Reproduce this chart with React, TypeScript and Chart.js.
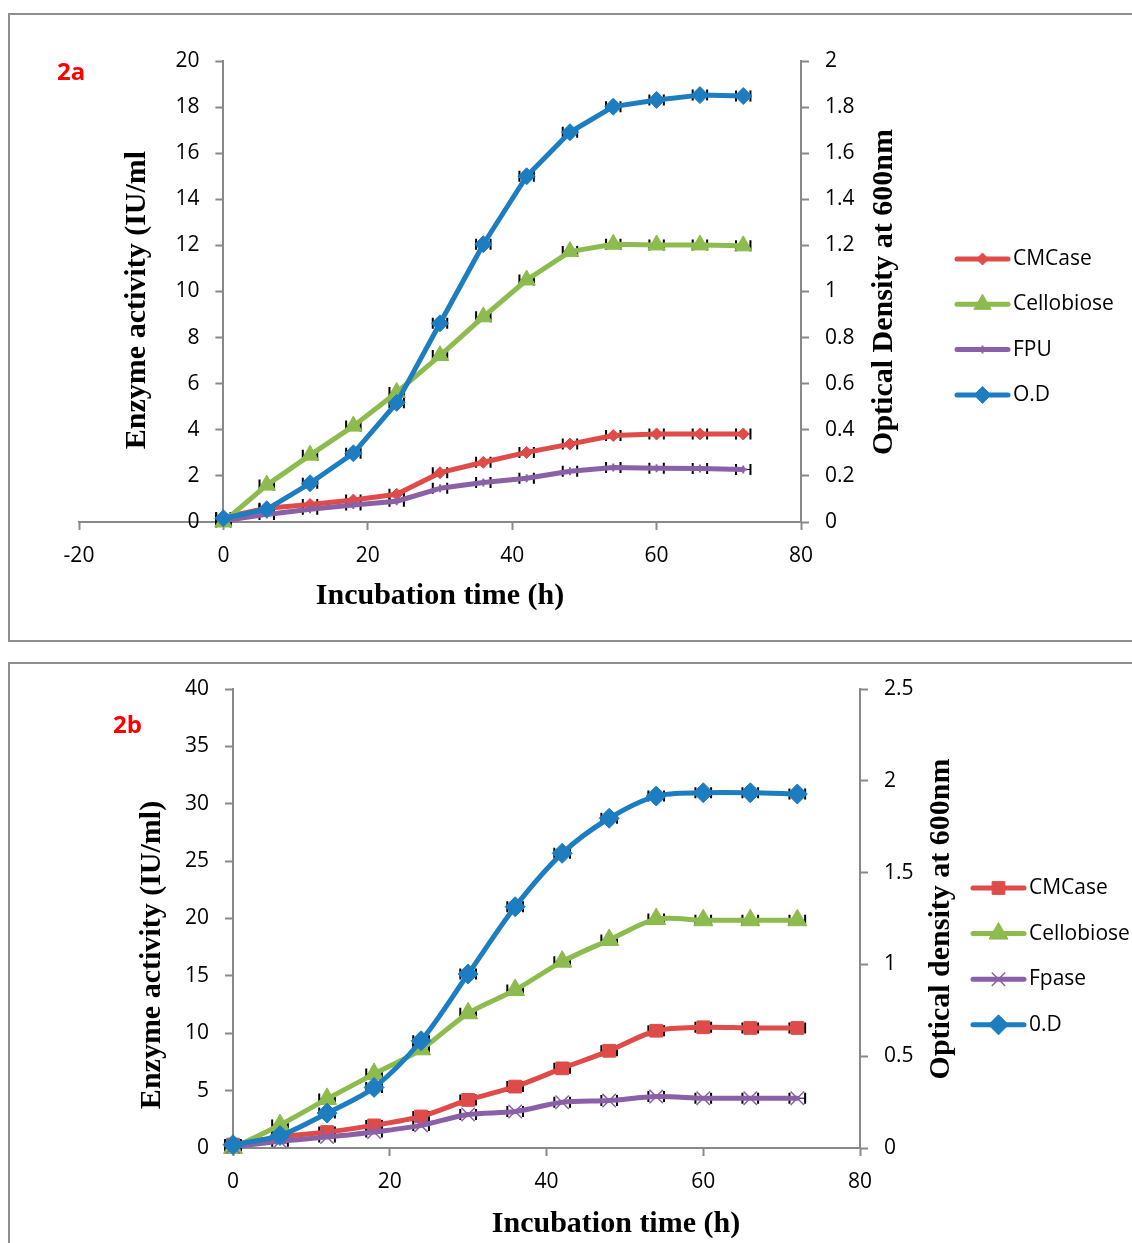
import React, { useEffect, useRef } from 'react';
import { Chart, registerables } from 'chart.js';
import { drawPoint } from 'chart.js/helpers';

Chart.register(...registerables);

// ---------------- data ----------------
const TIME_H = [0, 6, 12, 18, 24, 30, 36, 42, 48, 54, 60, 66, 72];
const TIME_ERR_H = 1;

// Figure 2a
const A_CMCASE = [0.2, 0.6, 0.76, 0.95, 1.2, 2.14, 2.59, 3.02, 3.38, 3.75, 3.82, 3.82, 3.82];
const A_CELLOBIOSE = [0, 1.6, 2.9, 4.16, 5.62, 7.22, 8.9, 10.5, 11.73, 12.05, 12.02, 12.02, 11.98];
const A_FPU = [0.05, 0.33, 0.55, 0.74, 0.9, 1.46, 1.71, 1.9, 2.2, 2.36, 2.33, 2.32, 2.28];
const A_OD = [0.016, 0.055, 0.168, 0.298, 0.517, 0.862, 1.205, 1.5, 1.691, 1.802, 1.831, 1.852, 1.848];

// Figure 2b
const B_CMCASE = [0.3, 0.95, 1.39, 1.97, 2.75, 4.19, 5.35, 6.94, 8.47, 10.22, 10.52, 10.46, 10.46];
const B_CELLOBIOSE = [0, 2.0, 4.28, 6.45, 8.6, 11.74, 13.77, 16.24, 18.13, 19.95, 19.85, 19.85, 19.85];
const B_FPASE = [0.1, 0.58, 0.95, 1.39, 1.97, 2.92, 3.18, 3.99, 4.13, 4.48, 4.34, 4.34, 4.34];
const B_OD = [0.018, 0.068, 0.19, 0.33, 0.584, 0.948, 1.314, 1.605, 1.796, 1.917, 1.935, 1.935, 1.928];

// tick labels
const A_X_TICKS = [-20, 0, 20, 40, 60, 80];
const A_Y_TICKS = [0, 2, 4, 6, 8, 10, 12, 14, 16, 18, 20];
const A_Y1_TICKS = [0, 0.2, 0.4, 0.6, 0.8, 1, 1.2, 1.4, 1.6, 1.8, 2];
const B_X_TICKS = [0, 20, 40, 60, 80];
const B_Y_TICKS = [0, 5, 10, 15, 20, 25, 30, 35, 40];
const B_Y1_TICKS = [0, 0.5, 1, 1.5, 2, 2.5];

// ---------------- styles ----------------
const RED = '#df4b48';
const GREEN = '#8dbb4e';
const PURPLE = '#8a60a6';
const BLUE = '#1d7dc1';
const AXIS_GRAY = '#898989';
const BOX_GRAY = '#8e8e8e';
const TICK_FONT = { family: "'Open Sans', sans-serif", size: 21 };
const TITLE_FONT = "bold 30px 'Liberation Serif', serif";
const LEGEND_FONT = "21px 'Open Sans', sans-serif";
const TAG_FONT = "bold 24px 'Open Sans', sans-serif";

interface SeriesSpec {
  label: string;
  values: number[];
  color: string;
  axis: 'y' | 'y1';
  pointStyle: string;
  radius: number;
  pointBorderWidth: number;
  order: number;
}

interface PanelSpec {
  height: number;
  top: number;
  tag: string;
  tagPos: [number, number];
  series: SeriesSpec[];
  xTicks: number[];
  yTicks: number[];
  y1Ticks: number[];
  tension: number;
  padding: { left: number; right: number; top: number; bottom: number };
  xHeight: number;
  shiftLeftAxisToZero: boolean;
  yTitle: string;
  yTitlePos: [number, number];
  y1Title: string;
  y1TitlePos: [number, number];
  xTitle: string;
  xTitlePos: [number, number];
  legendX: number;
  legendY0: number;
  legendGap: number;
}

const PANEL_A: PanelSpec = {
  height: 650,
  top: 0,
  tag: '2a',
  tagPos: [57, 73],
  series: [
    { label: 'CMCase', values: A_CMCASE, color: RED, axis: 'y', pointStyle: 'rectRot', radius: 6, pointBorderWidth: 1, order: 3 },
    { label: 'Cellobiose', values: A_CELLOBIOSE, color: GREEN, axis: 'y', pointStyle: 'triangle', radius: 10, pointBorderWidth: 1, order: 2 },
    { label: 'FPU', values: A_FPU, color: PURPLE, axis: 'y', pointStyle: 'cross', radius: 4, pointBorderWidth: 2, order: 1 },
    { label: 'O.D', values: A_OD, color: BLUE, axis: 'y1', pointStyle: 'rectRot', radius: 8.5, pointBorderWidth: 1, order: 0 },
  ],
  xTicks: A_X_TICKS,
  yTicks: A_Y_TICKS,
  y1Ticks: A_Y1_TICKS,
  tension: 0,
  padding: { left: 19, right: 251, top: 61, bottom: 0 },
  xHeight: 128,
  shiftLeftAxisToZero: true,
  yTitle: 'Enzyme activity (IU/ml',
  yTitlePos: [137, 300],
  y1Title: 'Optical Density at 600nm',
  y1TitlePos: [884, 292],
  xTitle: 'Incubation time (h)',
  xTitlePos: [440, 596],
  legendX: 957,
  legendY0: 259,
  legendGap: 45.3,
};

const PANEL_B: PanelSpec = {
  height: 593,
  top: 650,
  tag: '2b',
  tagPos: [113, 76],
  series: [
    { label: 'CMCase', values: B_CMCASE, color: RED, axis: 'y', pointStyle: 'rect', radius: 9, pointBorderWidth: 1, order: 3 },
    { label: 'Cellobiose', values: B_CELLOBIOSE, color: GREEN, axis: 'y', pointStyle: 'triangle', radius: 11, pointBorderWidth: 1, order: 2 },
    { label: 'Fpase', values: B_FPASE, color: PURPLE, axis: 'y', pointStyle: 'crossRot', radius: 9.5, pointBorderWidth: 1.5, order: 1 },
    { label: '0.D', values: B_OD, color: BLUE, axis: 'y1', pointStyle: 'rectRot', radius: 10, pointBorderWidth: 1, order: 0 },
  ],
  xTicks: B_X_TICKS,
  yTicks: B_Y_TICKS,
  y1Ticks: B_Y1_TICKS,
  tension: 0.3,
  padding: { left: 173, right: 192, top: 39, bottom: 0 },
  xHeight: 95,
  shiftLeftAxisToZero: false,
  yTitle: 'Enzyme activity (IU/ml)',
  yTitlePos: [152, 305],
  y1Title: 'Optical density at 600nm',
  y1TitlePos: [941, 269],
  xTitle: 'Incubation time (h)',
  xTitlePos: [616, 574],
  legendX: 973,
  legendY0: 238,
  legendGap: 45.6,
};

const fmt = (v: number | string) => String(+Number(v).toFixed(2));

function axisCommon(ticks: number[], width?: number, height?: number) {
  return {
    type: 'linear' as const,
    min: ticks[0],
    max: ticks[ticks.length - 1],
    afterBuildTicks: (s: any) => {
      s.ticks = ticks.map((v) => ({ value: v }));
    },
    afterFit: (s: any) => {
      if (width !== undefined) s.width = width;
      if (height !== undefined) s.height = height;
    },
    grid: {
      display: true,
      drawOnChartArea: false,
      drawTicks: true,
      tickLength: 8,
      tickColor: AXIS_GRAY,
      tickWidth: 2,
    },
    border: { display: true, color: AXIS_GRAY, width: 2 },
    ticks: { font: TICK_FONT, color: '#000', padding: 16, callback: fmt, autoSkip: false, maxRotation: 0 },
  };
}

const errorBarsPlugin = {
  id: 'errorBars',
  beforeDatasetsDraw(chart: any) {
    const ctx = chart.ctx as CanvasRenderingContext2D;
    const xs = chart.scales.x;
    ctx.save();
    ctx.strokeStyle = '#000';
    chart.data.datasets.forEach((_ds: any, di: number) => {
      const meta = chart.getDatasetMeta(di);
      meta.data.forEach((pt: any, i: number) => {
        const t = TIME_H[i];
        const x1 = xs.getPixelForValue(t - TIME_ERR_H);
        const x2 = xs.getPixelForValue(t + TIME_ERR_H);
        const y = pt.y;
        ctx.lineWidth = 1;
        ctx.beginPath();
        ctx.moveTo(x1, y);
        ctx.lineTo(x2, y);
        ctx.stroke();
        ctx.lineWidth = 2;
        ctx.beginPath();
        ctx.moveTo(x1, y - 5.5);
        ctx.lineTo(x1, y + 5.5);
        ctx.moveTo(x2, y - 5.5);
        ctx.lineTo(x2, y + 5.5);
        ctx.stroke();
      });
    });
    ctx.restore();
  },
};

function makeDecorPlugin(spec: PanelSpec) {
  return {
    id: 'decor',
    afterLayout(chart: any) {
      if (!spec.shiftLeftAxisToZero) return;
      const y = chart.scales.y;
      const px = chart.scales.x.getPixelForValue(0);
      const d = px - y.right;
      y.left += d;
      y.right += d;
    },
    afterDraw(chart: any) {
      const ctx = chart.ctx as CanvasRenderingContext2D;
      ctx.save();
      // panel tag
      ctx.fillStyle = '#ff0000';
      ctx.font = TAG_FONT;
      ctx.textAlign = 'left';
      ctx.textBaseline = 'middle';
      ctx.fillText(spec.tag, spec.tagPos[0], spec.tagPos[1]);

      // axis titles
      ctx.fillStyle = '#000';
      ctx.font = TITLE_FONT;
      ctx.textAlign = 'center';
      ctx.textBaseline = 'middle';
      ctx.fillText(spec.xTitle, spec.xTitlePos[0], spec.xTitlePos[1]);
      const vText = (text: string, cx: number, cy: number) => {
        ctx.save();
        ctx.translate(cx, cy);
        ctx.rotate(-Math.PI / 2);
        ctx.fillText(text, 0, 0);
        ctx.restore();
      };
      vText(spec.yTitle, spec.yTitlePos[0], spec.yTitlePos[1]);
      vText(spec.y1Title, spec.y1TitlePos[0], spec.y1TitlePos[1]);

      // legend
      spec.series.forEach((s, i) => {
        const y = spec.legendY0 + i * spec.legendGap;
        const x0 = spec.legendX;
        const x1 = x0 + 51;
        ctx.strokeStyle = s.color;
        ctx.fillStyle = s.color;
        ctx.lineWidth = 5;
        ctx.lineCap = 'round';
        ctx.beginPath();
        ctx.moveTo(x0, y);
        ctx.lineTo(x1, y);
        ctx.stroke();
        ctx.lineCap = 'butt';
        ctx.lineWidth = s.pointBorderWidth;
        drawPoint(ctx, { pointStyle: s.pointStyle as any, radius: s.radius, rotation: 0, borderWidth: s.pointBorderWidth }, (x0 + x1) / 2, y);
        ctx.fillStyle = '#000';
        ctx.font = LEGEND_FONT;
        ctx.textAlign = 'left';
        ctx.textBaseline = 'middle';
        ctx.fillText(s.label, x1 + 5, y);
      });
      ctx.restore();
    },
  };
}

function buildConfig(spec: PanelSpec): any {
  return {
    type: 'line',
    data: {
      datasets: spec.series.map((s) => ({
        label: s.label,
        data: TIME_H.map((t, i) => ({ x: t, y: s.values[i] })),
        yAxisID: s.axis,
        borderColor: s.color,
        backgroundColor: s.color,
        borderWidth: 5,
        borderJoinStyle: 'round',
        borderCapStyle: 'round',
        pointStyle: s.pointStyle,
        pointRadius: s.radius,
        pointBorderWidth: s.pointBorderWidth,
        pointBackgroundColor: s.color,
        pointBorderColor: s.color,
        tension: spec.tension,
        clip: false,
        order: s.order,
        fill: false,
      })),
    },
    options: {
      responsive: false,
      animation: false,
      devicePixelRatio: 1,
      events: [],
      layout: { padding: spec.padding },
      plugins: {
        legend: { display: false },
        tooltip: { enabled: false },
        title: { display: false },
      },
      scales: {
        x: { ...axisCommon(spec.xTicks, undefined, spec.xHeight), position: 'bottom', ticks: { font: TICK_FONT, color: '#000', padding: 13, callback: fmt, autoSkip: false, maxRotation: 0 } },
        y: { ...axisCommon(spec.yTicks, 60), position: 'left' },
        y1: { ...axisCommon(spec.y1Ticks, 80), position: 'right' },
      },
    },
    plugins: [errorBarsPlugin, makeDecorPlugin(spec)],
  };
}

function Panel({ spec }: { spec: PanelSpec }) {
  const ref = useRef<HTMLCanvasElement>(null);
  useEffect(() => {
    const chart = new Chart(ref.current as HTMLCanvasElement, buildConfig(spec));
    return () => chart.destroy();
  }, [spec]);
  return (
    <canvas
      ref={ref}
      width={1132}
      height={spec.height}
      style={{ position: 'absolute', left: 0, top: spec.top, width: 1132, height: spec.height, display: 'block' }}
    />
  );
}

export default function App() {
  return (
    <div style={{ position: 'absolute', left: 0, top: 0, width: 1132, height: 1243, overflow: 'hidden', background: '#fff' }}>
      <div
        style={{
          position: 'absolute', left: 8, top: 13, width: 1124, height: 629, boxSizing: 'border-box',
          borderTop: `2px solid ${BOX_GRAY}`, borderLeft: `2px solid ${BOX_GRAY}`, borderBottom: `2px solid ${BOX_GRAY}`,
        }}
      />
      <div
        style={{
          position: 'absolute', left: 8, top: 662, width: 1124, height: 581, boxSizing: 'border-box',
          borderTop: `2px solid ${BOX_GRAY}`, borderLeft: `2px solid ${BOX_GRAY}`,
        }}
      />
      <Panel spec={PANEL_A} />
      <Panel spec={PANEL_B} />
    </div>
  );
}
